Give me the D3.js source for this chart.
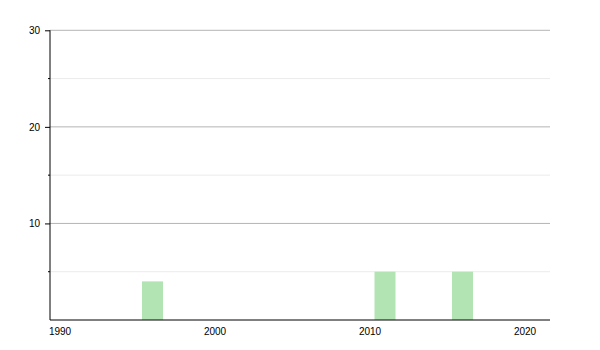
<!DOCTYPE html>
<html><head><meta charset="utf-8">
<script src="https://cdn.jsdelivr.net/npm/d3@7"></script>
<style>body{margin:0;background:#fff}svg text{font-family:"Liberation Sans",Arial,sans-serif;font-size:10px;fill:#000}</style>
</head><body><svg id="c" width="600" height="350"></svg>
<script>
const years = [1996, 2011, 2016];
const values = [4, 5, 5];
const xTickLabels = [1990, 2000, 2010, 2020];
const yMajorTicks = [10, 20, 30];
const yMinorTicks = [5, 15, 25];

const svg = d3.select("#c");
const x = d3.scaleLinear().domain([1990, 2020]).range([59.5, 524.5]);
const y = d3.scaleLinear().domain([0, 30]).range([320, 30.3]);
const left = 50, right = 550;
const barW = 21;

// minor gridlines
svg.append("g").selectAll("line").data(yMinorTicks).join("line")
  .attr("x1", left).attr("x2", right).attr("y1", d => y(d)).attr("y2", d => y(d))
  .attr("stroke", "#ebebeb").attr("stroke-width", 1);
// major gridlines
svg.append("g").selectAll("line").data(yMajorTicks).join("line")
  .attr("x1", left).attr("x2", right).attr("y1", d => y(d)).attr("y2", d => y(d))
  .attr("stroke", "#b4b4b4").attr("stroke-width", 1);

// bars
svg.append("g").selectAll("rect").data(years).join("rect")
  .attr("x", (d) => x(d) - barW / 2)
  .attr("width", barW)
  .attr("y", (d, i) => y(values[i]))
  .attr("height", (d, i) => y(0) - y(values[i]))
  .attr("fill", "#b2e4b3");

// y axis
const yAxis = d3.axisLeft(y).tickValues(yMajorTicks).tickSize(5).tickPadding(5);
const gy = svg.append("g").attr("transform", `translate(${left},0)`).call(yAxis);
gy.select(".domain").attr("d", `M0,${y(30)}V${y(0)}`).attr("stroke", "#000");
gy.selectAll(".tick line").attr("stroke", "#000");
gy.selectAll("text").attr("font-size", null).attr("font-family", null);
svg.append("g").selectAll("line").data(yMinorTicks).join("line")
  .attr("x1", left - 2).attr("x2", left).attr("y1", d => y(d)).attr("y2", d => y(d))
  .attr("stroke", "#000");

// x axis
const xAxis = d3.axisBottom(x).tickValues(xTickLabels).tickFormat(d3.format("d")).tickSize(0).tickPadding(8);
const gx = svg.append("g").attr("transform", `translate(0,${y(0)})`).call(xAxis);
gx.select(".domain").attr("d", `M${left},0H${right}`).attr("stroke", "#000");
gx.selectAll("text").attr("font-size", null).attr("font-family", null);
</script></body></html>
